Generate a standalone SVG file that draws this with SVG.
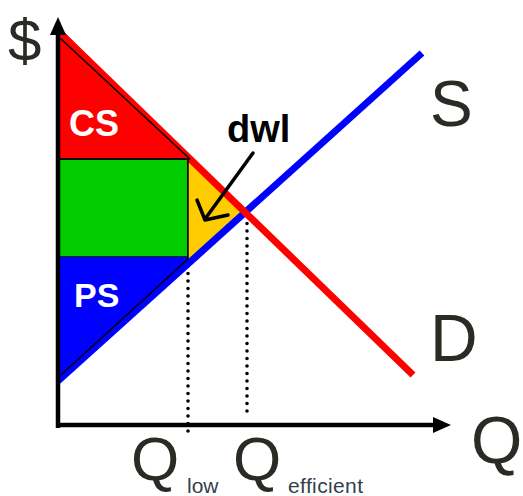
<svg xmlns="http://www.w3.org/2000/svg" width="523" height="496" viewBox="0 0 523 496">
<style>
.lbl{font-family:"Liberation Sans",Arial,sans-serif;fill:#2b2a24}
.sub{font-family:"Liberation Sans",Arial,sans-serif;fill:#34404c}
.area{font-family:"Liberation Sans",Arial,sans-serif;font-weight:bold;fill:#fff}
.edge{stroke:#000;stroke-width:1.5;fill:none}
.dot{stroke:#000;stroke-width:3.6;stroke-linecap:round;stroke-dasharray:0 7.5;fill:none}
.axis{stroke:#000;stroke-width:4.5;fill:none}
</style>
<rect width="523" height="496" fill="#fff"/>
<g id="areas">
<g id="cs">
<polygon points="58,26 58,159 190,159" fill="#ff0000"/>
</g>
<g id="middle">
<rect x="58" y="159" width="130" height="98" fill="#00cc00" stroke="#000" stroke-width="1.5"/>
</g>
<g id="dwl-area">
<polygon points="188,159 246,212 188,263" fill="#ffcc00"/>
</g>
<g id="ps">
<polygon points="58,257 188,257 188,262 58,385" fill="#0000ff"/>
</g>
</g>
<g id="connectors">
<line class="dot" x1="188" y1="266" x2="188" y2="432"/>
<line class="dot" x1="247" y1="216" x2="247" y2="416"/>
<line id="supply" x1="58" y1="381" x2="422" y2="53" stroke="#0000ff" stroke-width="7"/>
<line id="demand" x1="57" y1="30" x2="413" y2="375" stroke="#ff0000" stroke-width="7"/>
<line class="edge" x1="60" y1="38" x2="190" y2="159"/>
<line class="edge" x1="58" y1="159" x2="190" y2="159"/>
<line class="edge" x1="188" y1="259" x2="61" y2="375"/>
<line class="edge" x1="188" y1="159" x2="188" y2="260"/>
<g id="yaxis">
<line class="axis" x1="58" y1="33" x2="58" y2="428"/>
<polygon points="58,17 50,35 66,35" fill="#000"/>
</g>
<g id="xaxis">
<line class="axis" x1="56" y1="425" x2="436" y2="425"/>
<polygon points="451,425 433,417 433,433" fill="#000"/>
</g>
<g id="dwl-arrow" stroke="#000" stroke-width="3.5" fill="none" stroke-linecap="round" stroke-linejoin="round">
<line x1="253" y1="153" x2="205" y2="219"/>
<polyline points="197,200 205,220 228,215"/>
</g>
</g>
<g id="labels">
<text class="lbl" x="8" y="61" font-size="60">$</text>
<text class="area" x="69" y="136" font-size="36">CS</text>
<text class="area" x="74" y="307" font-size="34">PS</text>
<text x="227" y="142" font-size="38" font-weight="bold" font-family="Liberation Sans,Arial,sans-serif" fill="#000">dwl</text>
<text class="lbl" x="430" y="126" font-size="64">S</text>
<text class="lbl" x="430" y="361" font-size="66">D</text>
<text class="lbl" x="471" y="463" font-size="66">Q</text>
<text class="lbl" x="131" y="480" font-size="62">Q</text>
<text class="sub" x="187" y="493" font-size="21">low</text>
<text class="lbl" x="233" y="480" font-size="62">Q</text>
<text class="sub" x="288" y="493" font-size="21" textLength="75">efficient</text>
</g>
</svg>
